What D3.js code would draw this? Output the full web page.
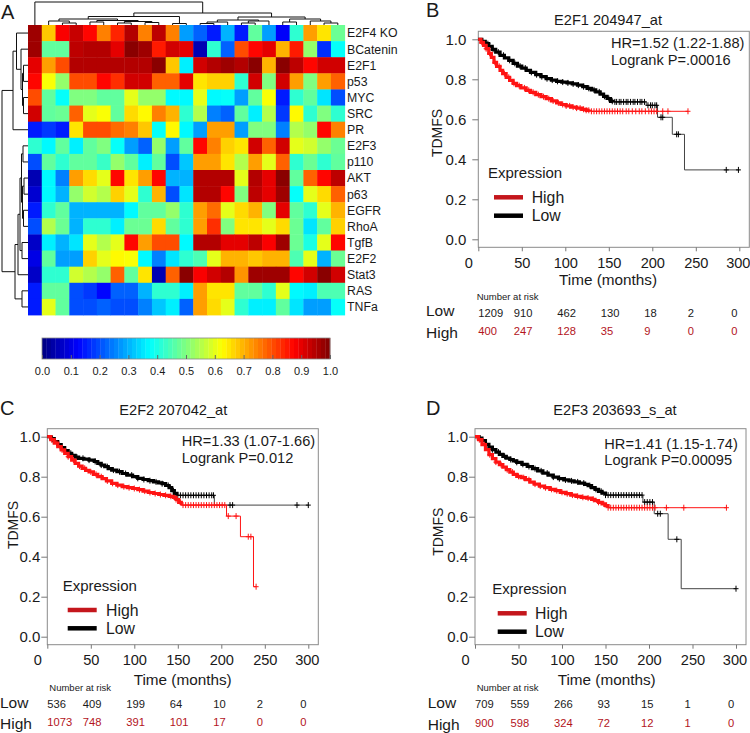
<!DOCTYPE html>
<html><head><meta charset="utf-8">
<script src="https://cdn.jsdelivr.net/npm/d3@7"></script>
<style>
body{margin:0;background:#fff}
svg{display:block}
text{font-family:"Liberation Sans",Arial,sans-serif;fill:#1a1a1a}
</style>
</head><body>
<svg id="fig" width="750" height="733"></svg>
<script>
// ---------------- DATA ----------------
const heatRows = ["E2F4 KO","BCatenin","E2F1","p53","MYC","SRC","PR","E2F3","p110","AKT","p63","EGFR","RhoA","TgfB","E2F2","Stat3","RAS","TNFa"];
const heatCols = d3.range(23);
const heatValues = [
 [0.97,0.68,0.88,0.93,0.87,0.75,0.84,0.95,0.75,0.94,0.75,0.28,0.22,0.15,0.30,0.15,0.47,0.28,0.12,0.42,0.72,0.65,0.48],
 [0.97,0.47,0.47,0.94,0.95,0.95,0.90,0.99,0.97,0.85,0.92,0.90,0.05,0.42,0.22,0.80,0.87,0.90,0.70,0.85,0.52,0.17,0.38],
 [0.90,0.72,0.80,0.95,0.95,0.95,0.95,0.95,0.95,0.99,0.68,0.36,0.92,0.95,0.97,0.95,0.99,0.70,0.99,0.94,0.87,0.92,0.92],
 [0.87,0.62,0.52,0.80,0.80,0.87,0.83,0.92,0.92,0.78,0.78,0.90,0.65,0.67,0.67,0.42,0.92,0.50,0.92,0.72,0.50,0.72,0.78],
 [0.80,0.47,0.38,0.50,0.50,0.47,0.47,0.60,0.52,0.52,0.37,0.37,0.60,0.37,0.38,0.28,0.47,0.62,0.15,0.42,0.47,0.35,0.20],
 [0.92,0.47,0.48,0.78,0.60,0.62,0.47,0.66,0.63,0.75,0.70,0.42,0.55,0.25,0.22,0.47,0.36,0.55,0.18,0.63,0.42,0.50,0.42],
 [0.15,0.18,0.15,0.65,0.80,0.80,0.77,0.75,0.68,0.38,0.63,0.37,0.28,0.72,0.72,0.28,0.50,0.50,0.25,0.55,0.52,0.87,0.75],
 [0.42,0.37,0.47,0.36,0.47,0.50,0.38,0.28,0.22,0.52,0.28,0.47,0.87,0.75,0.67,0.65,0.92,0.78,0.92,0.60,0.58,0.52,0.48],
 [0.20,0.47,0.42,0.47,0.47,0.43,0.52,0.47,0.36,0.47,0.20,0.32,0.72,0.72,0.65,0.55,0.72,0.60,0.78,0.42,0.48,0.42,0.47],
 [0.05,0.37,0.25,0.72,0.66,0.60,0.87,0.65,0.72,0.87,0.30,0.30,0.95,0.95,0.95,0.60,0.95,0.90,0.99,0.47,0.78,0.87,0.94],
 [0.08,0.37,0.30,0.52,0.58,0.55,0.67,0.60,0.42,0.70,0.20,0.35,0.95,0.95,0.87,0.50,0.94,0.90,0.97,0.38,0.60,0.66,0.78],
 [0.15,0.42,0.47,0.30,0.30,0.30,0.30,0.37,0.47,0.47,0.52,0.42,0.72,0.77,0.60,0.66,0.70,0.50,0.90,0.47,0.42,0.60,0.70],
 [0.20,0.55,0.48,0.30,0.42,0.42,0.36,0.48,0.48,0.66,0.47,0.42,0.72,0.83,0.50,0.65,0.65,0.60,0.66,0.48,0.35,0.47,0.67],
 [0.07,0.36,0.30,0.35,0.60,0.55,0.60,0.87,0.72,0.80,0.80,0.37,0.95,0.95,0.90,0.90,0.94,0.88,0.97,0.48,0.40,0.60,0.87],
 [0.10,0.47,0.28,0.28,0.67,0.60,0.63,0.62,0.37,0.25,0.35,0.42,0.45,0.60,0.70,0.70,0.68,0.70,0.70,0.45,0.60,0.30,0.48],
 [0.07,0.42,0.42,0.58,0.55,0.52,0.78,0.47,0.65,0.05,0.78,0.99,0.88,0.92,0.95,0.73,0.97,0.97,0.97,0.87,0.92,0.99,0.92],
 [0.15,0.47,0.47,0.20,0.18,0.13,0.22,0.22,0.30,0.42,0.42,0.36,0.72,0.65,0.65,0.47,0.47,0.42,0.60,0.37,0.36,0.45,0.45],
 [0.15,0.60,0.47,0.20,0.20,0.22,0.20,0.20,0.25,0.32,0.36,0.22,0.72,0.66,0.60,0.42,0.36,0.36,0.47,0.35,0.28,0.28,0.38]
];
// dendrograms: [mergeHeight, left, right], leaves are indices
const colTree = [23, 0, [12,
  [8.5, [6, [4, 1, [2, 2, 3]], [4.5, [3, 4, 5], [3.5, [2, 6, 7], [2.5, 8, 9]]]], [1.5, 10, 11]],
  [8, [5, [3, [1.5, 12, 13], 14], [4, [2, 15, 16], 17]], [6, [3, 18, 19], [4, 20, [2, 21, 22]]]]
]];
const rowTree = [26,
  [15, [11.5, 0, [7, 1, [5.5, [4.5, 2, 3], [4.5, 4, 5]]]], 6],
  [13, [10, [8, [6.5, [5, 7, 8], [5.5, [4, 9, 10], [4.5, 11, 12]]], [6, 13, 14]], 15], [6, 16, 17]]
];
const colorbarTicks = [0.0,0.1,0.2,0.3,0.4,0.5,0.6,0.7,0.8,0.9,1.0];

// Kaplan-Meier curves: [time (months), survival] step points
const timeTicks = [0,50,100,150,200,250,300];
const survTicks = [0.0,0.2,0.4,0.6,0.8,1.0];
const riskTimes = [0,50,100,150,200,250,300];

const titleB = "E2F1 204947_at", hrB = ["HR=1.52 (1.22-1.88)","Logrank P=.00016"];
const bHigh = [[0,1],[3,0.985],[6,0.97],[9,0.953],[12,0.93],[15,0.91],[18,0.885],[21,0.865],[25,0.845],[28,0.828],[32,0.81],[36,0.795],[40,0.78],[44,0.768],[49,0.757],[55,0.745],[60,0.735],[66,0.723],[72,0.713],[78,0.703],[84,0.692],[90,0.682],[95,0.674],[101,0.667],[107,0.661],[113,0.656],[119,0.65],[124,0.645],[130,0.64],[241,0.64]];
const bLow = [[0,1],[4,0.99],[8,0.978],[12,0.965],[16,0.95],[20,0.936],[25,0.92],[30,0.907],[35,0.895],[40,0.88],[45,0.866],[50,0.856],[55,0.845],[60,0.835],[66,0.823],[72,0.813],[78,0.803],[84,0.796],[90,0.79],[96,0.786],[102,0.782],[108,0.777],[114,0.771],[120,0.763],[125,0.755],[130,0.747],[135,0.737],[140,0.726],[144,0.715],[148,0.704],[152,0.69],[155,0.687],[193,0.67],[206,0.61],[223,0.525],[237,0.347],[300,0.347]];
const bHighCens = [4,9,13,19,24,30,35,41,47,53,58,63,69,75,81,86,92,97,101,105,109,113,117,121,124,127,130,133,136,139,142,145,148,151,154,157,160,163,166,170,173,177,181,185,188,192,196,199,202,205,212,218,241];
const bLowCens = [5,11,17,23,29,36,42,48,54,61,67,73,79,85,91,97,103,109,115,121,127,133,139,145,150,154,157,159,162,164,167,170,172,175,178,180,183,186,188,191,195,198,200,203,205,210,212,228,230,285,299];
const bRiskLow = [1209,910,462,130,18,2,0], bRiskHigh = [400,247,128,35,9,0,0];

const titleC = "E2F2 207042_at", hrC = ["HR=1.33 (1.07-1.66)","Logrank P=0.012"];
const cHigh = [[0,1],[4,0.985],[8,0.968],[12,0.95],[16,0.934],[20,0.917],[24,0.9],[28,0.883],[32,0.867],[36,0.853],[40,0.842],[44,0.832],[48,0.824],[53,0.812],[58,0.8],[63,0.79],[68,0.779],[74,0.767],[80,0.758],[86,0.75],[92,0.745],[98,0.741],[104,0.735],[110,0.728],[116,0.721],[122,0.716],[128,0.711],[134,0.707],[140,0.702],[145,0.697],[148,0.686],[151,0.672],[154,0.658],[206,0.603],[222,0.5],[237,0.25],[240,0.25]];
const cLow = [[0,1],[4,0.99],[8,0.975],[12,0.96],[16,0.945],[20,0.93],[24,0.917],[28,0.907],[32,0.898],[36,0.892],[42,0.888],[48,0.883],[54,0.876],[58,0.867],[62,0.858],[66,0.85],[70,0.84],[74,0.833],[80,0.825],[86,0.816],[92,0.808],[98,0.8],[104,0.792],[110,0.786],[116,0.78],[122,0.774],[128,0.769],[132,0.765],[136,0.756],[140,0.745],[143,0.73],[146,0.717],[149,0.707],[192,0.658],[300,0.658]];
const cHighCens = [5,11,17,24,30,37,43,50,56,62,69,75,81,88,94,100,106,112,118,124,130,136,142,148,153,156,159,162,165,168,171,174,177,180,183,186,189,192,195,198,201,204,208,217,231,234,240];
const cLowCens = [6,13,20,27,34,41,48,55,62,69,76,83,90,97,104,111,118,125,132,139,145,150,153,156,159,162,165,168,171,174,177,180,183,186,189,191,210,213,287,300];
const cRiskLow = [536,409,199,64,10,2,0], cRiskHigh = [1073,748,391,101,17,0,0];

const titleD = "E2F3 203693_s_at", hrD = ["HR=1.41 (1.15-1.74)","Logrank P=0.00095"];
const dHigh = [[0,1],[4,0.985],[8,0.96],[12,0.935],[16,0.91],[20,0.89],[24,0.873],[28,0.86],[32,0.848],[36,0.835],[40,0.823],[44,0.812],[48,0.802],[53,0.795],[58,0.785],[63,0.773],[68,0.763],[74,0.753],[80,0.745],[86,0.737],[92,0.73],[98,0.722],[104,0.715],[110,0.708],[116,0.702],[122,0.697],[128,0.693],[134,0.687],[138,0.68],[142,0.672],[146,0.664],[150,0.655],[153,0.645],[289,0.645]];
const dLow = [[0,1],[4,0.993],[8,0.98],[12,0.962],[16,0.948],[20,0.935],[24,0.923],[28,0.912],[32,0.902],[36,0.893],[40,0.886],[44,0.879],[48,0.872],[54,0.862],[60,0.851],[66,0.84],[72,0.829],[78,0.818],[84,0.808],[90,0.798],[96,0.79],[102,0.784],[108,0.779],[114,0.774],[120,0.768],[126,0.762],[130,0.755],[134,0.745],[138,0.737],[142,0.727],[146,0.718],[150,0.708],[193,0.673],[206,0.615],[222,0.487],[237,0.24],[300,0.24]];
const dHighCens = [5,11,17,24,30,37,43,50,56,62,69,75,81,88,94,100,106,112,118,124,130,136,142,148,153,156,159,162,165,168,171,174,177,180,183,186,189,192,195,198,201,204,207,220,240,289];
const dLowCens = [6,13,20,27,34,41,48,55,62,69,76,83,90,97,104,111,118,125,132,139,145,150,153,156,159,162,165,168,171,174,177,180,183,186,189,192,195,198,201,204,210,213,232,300];
const dRiskLow = [709,559,266,93,15,1,0], dRiskHigh = [900,598,324,72,12,1,0];

// ---------------- DRAW ----------------
const svg = d3.select("#fig");
const RED = "#ff1414", RED_DARK = "#c4161c", RISK_RED = "#b3141c";

function jet(v){
  const c = t => Math.max(0, Math.min(1, t));
  return d3.rgb(255*c(1.5-Math.abs(4*v-3)), 255*c(1.5-Math.abs(4*v-2)), 255*c(1.5-Math.abs(4*v-1))) + "";
}

// Panel A heatmap
const hx = d3.scaleBand().domain(heatCols).range([28, 344.7]);
const hy = d3.scaleBand().domain(heatRows).range([25, 315]);
const gA = svg.append("g");
heatRows.forEach((r, i) => {
  gA.selectAll(null).data(heatValues[i]).join("rect")
    .attr("x", (d, j) => hx(j)).attr("y", hy(r))
    .attr("width", hx.bandwidth() + 0.4).attr("height", hy.bandwidth() + 0.4)
    .attr("fill", d => jet(d));
});
gA.selectAll("text.rl").data(heatRows).join("text").attr("class","rl")
  .attr("x", 347).attr("y", d => hy(d) + hy.bandwidth()/2).attr("dy","0.36em")
  .attr("font-size", 12.3).text(d => d);

// dendrograms
function dendro(tree, posOf, hScale, vertical){
  const paths = [];
  function walk(n){
    if (typeof n === "number") return {p: posOf(n), h: 0};
    const A = walk(n[1]), B = walk(n[2]);
    if (vertical) paths.push(`M${A.p},${hScale(A.h)}V${hScale(n[0])}H${B.p}V${hScale(B.h)}`);
    else paths.push(`M${hScale(A.h)},${A.p}H${hScale(n[0])}V${B.p}H${hScale(B.h)}`);
    return {p: (A.p + B.p)/2, h: n[0]};
  }
  walk(tree);
  return paths;
}
const topH = d3.scaleLinear().domain([0, colTree[0]]).range([25, 2]);
const leftH = d3.scaleLinear().domain([0, rowTree[0]]).range([28, 2]);
gA.selectAll("path.td").data(dendro(colTree, j => hx(j) + hx.bandwidth()/2, topH, true)).join("path")
  .attr("d", d => d).attr("fill","none").attr("stroke","#111").attr("stroke-width",1);
gA.selectAll("path.ld").data(dendro(rowTree, i => hy(heatRows[i]) + hy.bandwidth()/2, leftH, false)).join("path")
  .attr("d", d => d).attr("fill","none").attr("stroke","#111").attr("stroke-width",1);

// colorbar
const cb = d3.scaleLinear().domain([0,1]).range([42, 330]);
const nSteps = 64;
gA.selectAll("rect.cb").data(d3.range(nSteps)).join("rect").attr("class","cb")
  .attr("x", k => cb(k/nSteps)).attr("y", 338).attr("width", (cb(1)-cb(0))/nSteps + 0.3).attr("height", 21)
  .attr("fill", k => jet((k+0.5)/nSteps));
gA.append("rect").attr("x",cb(0)).attr("y",338).attr("width",cb(1)-cb(0)).attr("height",21)
  .attr("fill","none").attr("stroke","#888").attr("stroke-width",0.8);
const cbAxis = gA.append("g").attr("transform","translate(0,359)")
  .call(d3.axisBottom(cb).tickValues(colorbarTicks).tickFormat(d3.format(".1f")).tickSize(-4).tickPadding(8));
cbAxis.select(".domain").remove();
cbAxis.selectAll(".tick line").attr("stroke","#666");
cbAxis.selectAll("text").attr("font-size",11).attr("font-family","Liberation Sans, Arial, sans-serif").attr("fill","#1a1a1a");

// panel letters
svg.append("text").attr("x",1).attr("y",19).attr("font-size",20).text("A");
svg.append("text").attr("x",426).attr("y",17).attr("font-size",20).text("B");
svg.append("text").attr("x",0).attr("y",415).attr("font-size",20).text("C");
svg.append("text").attr("x",426).attr("y",415).attr("font-size",20).text("D");

// KM panels
const panels = [
  {x0:478.3, y0:239.3, title:titleB, hr:hrB, high:bHigh, low:bLow, highC:bHighCens, lowC:bLowCens, riskL:bRiskLow, riskH:bRiskHigh,
   highDense:128, lowDense:155, ylabPad:11, titleXY:[608,20], hrXY:[611,42.7,59.3], legXY:[488,172.7,494,523,197.3,215.7,531.7],
   timeXY:[608,279], tdXY:[437,133], riskXY:[476.7,296.7,426,310.7,332,313.3,331.3]},
  {x0:47.3, y0:636.7, title:titleC, hr:hrC, high:cHigh, low:cLow, highC:cHighCens, lowC:cLowCens, riskL:cRiskLow, riskH:cRiskHigh,
   highDense:154, lowDense:149, ylabPad:6, titleXY:[173.3,410], hrXY:[181.7,441,457.3], legXY:[62.7,585.7,67.7,96.7,610,628.3,106],
   timeXY:[182.7,679], tdXY:[13.3,525], riskXY:[49.3,687.7,0,702.3,723.3,704.3,722.3]},
  {x0:475, y0:636.7, title:titleD, hr:hrD, high:dHigh, low:dLow, highC:dHighCens, lowC:dLowCens, riskL:dRiskLow, riskH:dRiskHigh,
   highDense:153, lowDense:150, ylabPad:6, titleXY:[615,410], hrXY:[604.3,443.3,460], legXY:[492.3,589,497.7,526.7,613.3,631.7,535],
   timeXY:[606.7,679.3], tdXY:[438.3,531.7], riskXY:[476.7,687.7,427.7,702.3,724.3,704.3,722.7]}
];

function stepAt(curve, t){
  let s = curve[0][1];
  for (const p of curve) { if (p[0] <= t) s = p[1]; else break; }
  return s;
}

panels.forEach(P => {
  const g = svg.append("g");
  const xs = d3.scaleLinear().domain([0,300]).range([P.x0, P.x0 + 261]);
  const ys = d3.scaleLinear().domain([0,1]).range([P.y0, P.y0 - 200]);
  // frame
  g.append("rect").attr("x", P.x0).attr("y", P.y0 - 208).attr("width", 271).attr("height", 216)
    .attr("fill","none").attr("stroke","#8a8a8a").attr("stroke-width",1);
  // y axis
  const ya = g.append("g").attr("transform",`translate(${P.x0},0)`)
    .call(d3.axisLeft(ys).tickValues(survTicks).tickFormat(d3.format(".1f")).tickSize(6).tickPadding(P.ylabPad - 6 + 1));
  ya.select(".domain").remove();
  ya.selectAll(".tick line").attr("stroke","#777");
  ya.selectAll("text").attr("font-size",15).attr("font-family","Liberation Sans, Arial, sans-serif").attr("fill","#1a1a1a");
  // x axis
  const xa = g.append("g").attr("transform",`translate(0,${P.y0 + 8})`)
    .call(d3.axisBottom(xs).tickValues(timeTicks).tickSize(4).tickPadding(6));
  xa.select(".domain").remove();
  xa.selectAll(".tick line").attr("stroke","#777");
  xa.selectAll("text").attr("font-size",14.6).attr("font-family","Liberation Sans, Arial, sans-serif").attr("fill","#1a1a1a")
    .attr("x", d => d === 0 ? -10 : (d === 300 ? -1.5 : 0));
  // labels
  g.append("text").attr("x",P.titleXY[0]).attr("y",P.titleXY[1]).attr("dy","0.36em").attr("text-anchor","middle")
    .attr("font-size",14.6).text(P.title);
  g.selectAll("text.hr").data(P.hr).join("text").attr("class","hr")
    .attr("x",P.hrXY[0]).attr("y",(d,i)=>P.hrXY[1+i]).attr("dy","0.36em").attr("font-size",14.6).text(d=>d);
  g.append("text").attr("x",P.timeXY[0]).attr("y",P.timeXY[1]).attr("dy","0.36em").attr("text-anchor","middle")
    .attr("font-size",15.3).text("Time (months)");
  g.append("text").attr("transform",`translate(${P.tdXY[0]},${P.tdXY[1]}) rotate(-90)`).attr("dy","0.36em")
    .attr("text-anchor","middle").attr("font-size",14).text("TDMFS");
  // legend
  const L = P.legXY;
  g.append("text").attr("x",L[0]).attr("y",L[1]).attr("dy","0.36em").attr("font-size",15).text("Expression");
  g.append("line").attr("x1",L[2]).attr("x2",L[3]).attr("y1",L[4]).attr("y2",L[4]).attr("stroke",RED_DARK).attr("stroke-width",4.5);
  g.append("line").attr("x1",L[2]).attr("x2",L[3]).attr("y1",L[5]).attr("y2",L[5]).attr("stroke","#000").attr("stroke-width",4.5);
  g.append("text").attr("x",L[6]).attr("y",L[4]).attr("dy","0.36em").attr("font-size",15.8).text("High");
  g.append("text").attr("x",L[6]).attr("y",L[5]).attr("dy","0.36em").attr("font-size",15.8).text("Low");
  // curves
  const line = d3.line().x(d => xs(d[0])).y(d => ys(d[1])).curve(d3.curveStepAfter);
  function drawCurve(curve, cens, dense, color, thinColor){
    g.append("path").attr("d", line(curve)).attr("fill","none").attr("stroke", thinColor).attr("stroke-width",1);
    const densePts = curve.filter(p => p[0] <= dense);
    densePts.push([dense, stepAt(curve, dense)]);
    g.append("path").attr("d", line(densePts)).attr("fill","none").attr("stroke", color).attr("stroke-width",3.2);
    g.append("path").attr("d", cens.map(t => {
        const X = xs(t), Y = ys(stepAt(curve, t));
        return `M${X-2.5},${Y}h5M${X},${Y-3}v6`;
      }).join("")).attr("fill","none").attr("stroke", color).attr("stroke-width",1);
  }
  drawCurve(P.low, P.lowC, P.lowDense, "#000", "#444");
  drawCurve(P.high, P.highC, P.highDense, RED, RED);
  // number at risk
  const R = P.riskXY;
  g.append("text").attr("x",R[0]).attr("y",R[1]).attr("dy","0.36em").attr("font-size",9.5).text("Number at risk");
  g.append("text").attr("x",R[2]).attr("y",R[3]).attr("dy","0.36em").attr("font-size",15.5).text("Low");
  g.append("text").attr("x",R[2]).attr("y",R[4]).attr("dy","0.36em").attr("font-size",15.5).text("High");
  const rx = t => t === 0 ? xs(0) : xs(t) - 8;
  g.selectAll("text.rl").data(P.riskL).join("text").attr("class","rl")
    .attr("x",(d,i)=>rx(riskTimes[i])).attr("y",R[5]).attr("dy","0.36em").attr("font-size",11.2).text(d=>d);
  g.selectAll("text.rh").data(P.riskH).join("text").attr("class","rh")
    .attr("x",(d,i)=>rx(riskTimes[i])).attr("y",R[6]).attr("dy","0.36em").attr("font-size",11.2)
    .style("fill",RISK_RED).text(d=>d);
});
</script>
</body></html>
